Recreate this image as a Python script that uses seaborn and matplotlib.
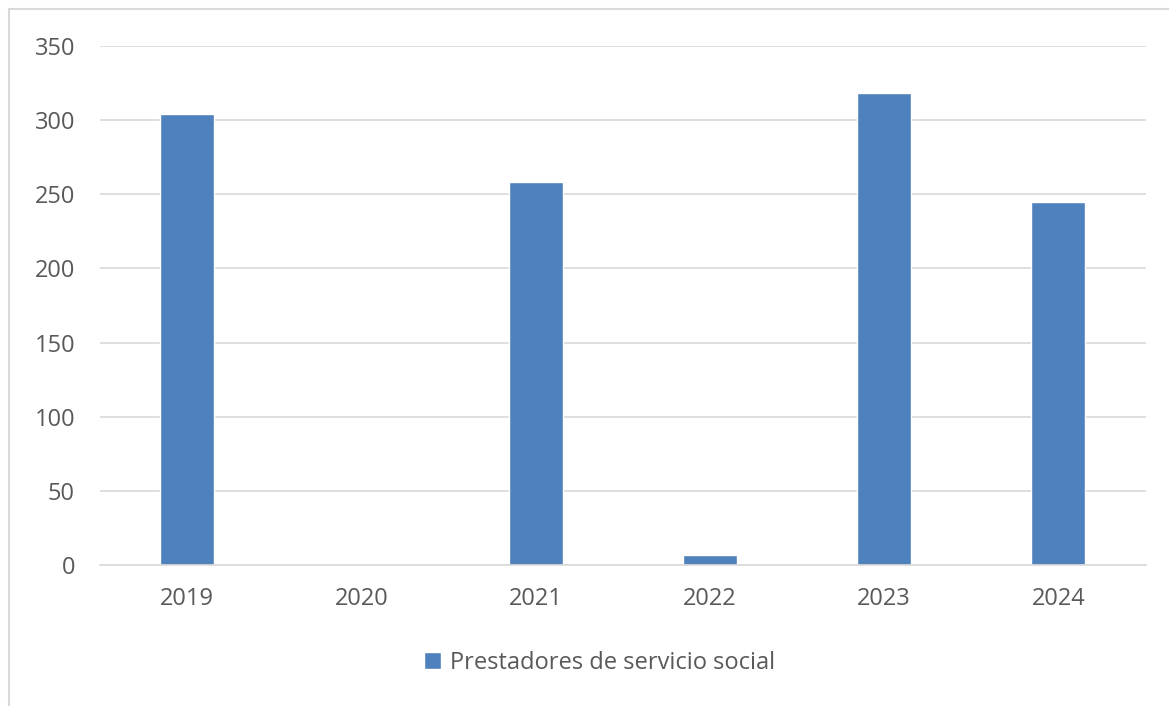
import pandas as pd
import matplotlib.pyplot as plt
import seaborn as sns
from matplotlib.patches import Rectangle

# Data
years = ["2019", "2020", "2021", "2022", "2023", "2024"]
prestadores = [304, 0, 258, 7, 318, 245]
series_name = "Prestadores de servicio social"

df = pd.DataFrame({"year": years, "value": prestadores})

sns.set_theme(style="white")
plt.rcParams["font.family"] = ["Open Sans", "DejaVu Sans"]

text_color = "#595959"
bar_color = "#4F81BD"

fig = plt.figure(figsize=(11.69, 7.06), dpi=100)
ax = fig.add_axes([0.0855, 0.1997, 0.8945, 0.7351])

sns.barplot(data=df, x="year", y="value", color=bar_color, width=0.31,
            saturation=1, label=series_name, ax=ax)

ax.set_ylim(0, 350)
ax.set_yticks(range(0, 351, 50))
ax.set_xlim(-0.5, 5.5)
ax.grid(axis="y", color="#D9D9D9", linewidth=1.2)
ax.set_axisbelow(True)
for s in ["top", "right", "left"]:
    ax.spines[s].set_visible(False)
ax.spines["bottom"].set_color("#D9D9D9")
ax.spines["bottom"].set_linewidth(1.2)
ax.set_xlabel("")
ax.set_ylabel("")
ax.tick_params(axis="both", colors=text_color, labelsize=17, length=0)
ax.tick_params(axis="y", pad=18)
ax.tick_params(axis="x", pad=16)

ax.legend(loc="center", frameon=False, fontsize=17, labelcolor=text_color,
          handlelength=0.7, handleheight=0.7, handletextpad=0.4)
leg = ax.get_legend()
leg.set_bbox_to_anchor((600 / 1169, 1 - 663 / 706), transform=fig.transFigure)

# outer chart border (top and left visible only)
fig.patches.append(Rectangle((9 / 1169, -0.1), 1.2, 1 - 9 / 706 + 0.1,
                             transform=fig.transFigure, fill=False,
                             edgecolor="#D9D9D9", linewidth=1.5))

fig.savefig("out.png", dpi=100)
